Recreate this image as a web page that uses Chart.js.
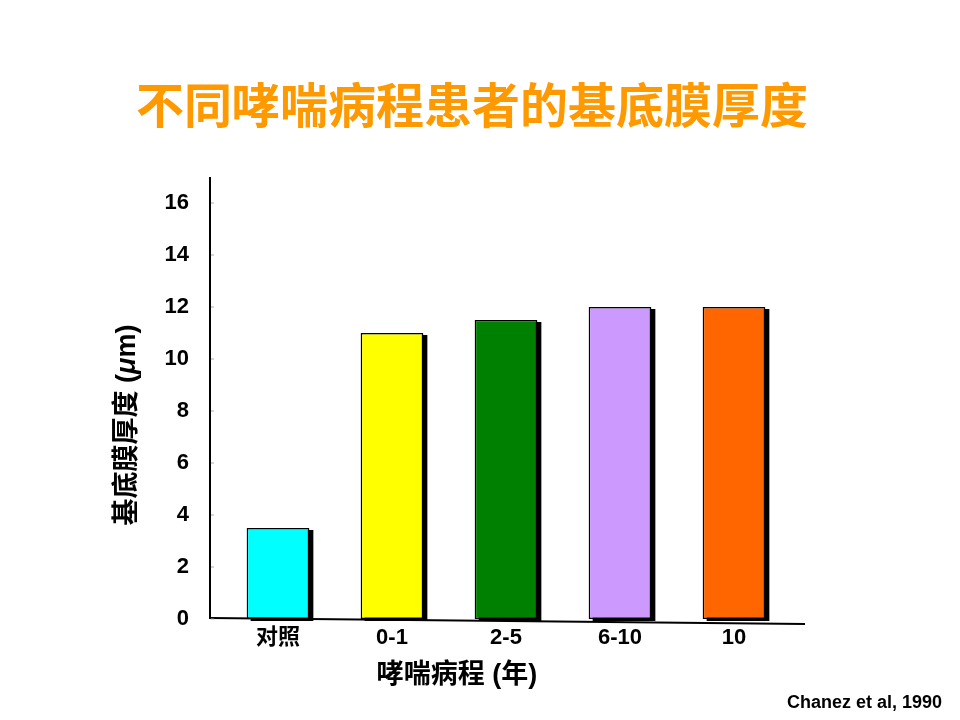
<!DOCTYPE html>
<html>
<head>
<meta charset="utf-8">
<script src="https://cdn.jsdelivr.net/npm/chart.js@4.4.0/dist/chart.umd.min.js"></script>
<style>
    html, body { margin: 0; padding: 0; background: #fff; }
    #wrap { width: 960px; height: 720px; }
</style>
</head>
<body>
<div id="wrap"><canvas id="myChart" width="960" height="720"></canvas></div>
<script>
// Data
const categories = ['对照', '0-1', '2-5', '6-10', '10'];
const thickness = [3.5, 11, 11.5, 12, 12];
const barColors = ['#00FFFF', '#FFFF00', '#008000', '#CC99FF', '#FF6600'];
const yTicks = [0, 2, 4, 6, 8, 10, 12, 14, 16];

const FONT = '"Liberation Sans", Arial, "Noto Sans CJK SC", sans-serif';
const CJK = '"Noto Sans CJK SC", sans-serif';

// draw a row of text pieces centred on (0,0) of the current transform
function drawPieces(ctx, parts) {
    let total = 0;
    parts.forEach(p => { ctx.font = p[1]; total += ctx.measureText(p[0]).width; });
    let x = -total / 2;
    parts.forEach(p => {
        ctx.font = p[1];
        ctx.fillText(p[0], x, 0);
        x += ctx.measureText(p[0]).width;
    });
}

// Shadow behind each bar + hand drawn axis lines, titles, source note
const decor = {
    id: 'decor',
    beforeDatasetsDraw(chart) {
        const ctx = chart.ctx;
        const meta = chart.getDatasetMeta(0);
        ctx.save();
        ctx.fillStyle = '#000';
        meta.data.forEach(bar => {
            const w = bar.width;
            ctx.fillRect(bar.x - w / 2 + 4, bar.y + 2, w, bar.base - bar.y);
        });
        ctx.restore();
    },
    afterDraw(chart) {
        const ctx = chart.ctx;
        const area = chart.chartArea;
        const y = chart.scales.y;
        const axisX = area.left - 11;
        ctx.save();
        ctx.strokeStyle = '#000';
        ctx.lineWidth = 2;
        ctx.beginPath();
        ctx.moveTo(axisX, area.top);
        ctx.lineTo(axisX, area.bottom);
        ctx.stroke();
        ctx.beginPath();
        ctx.moveTo(axisX, area.bottom - 1);
        ctx.lineTo(area.right + 14, area.bottom + 5);
        ctx.stroke();

        // small ticks on the y axis
        ctx.strokeStyle = '#aaa';
        ctx.lineWidth = 1;
        yTicks.forEach(v => {
            const py = y.getPixelForValue(v);
            ctx.beginPath();
            ctx.moveTo(axisX + 1, py);
            ctx.lineTo(axisX + 4, py);
            ctx.stroke();
        });
        ctx.restore();

        // main title
        ctx.save();
        ctx.fillStyle = '#FF9900';
        ctx.font = 'bold 48px ' + CJK;
        ctx.textAlign = 'center';
        ctx.textBaseline = 'middle';
        ctx.fillText('不同哮喘病程患者的基底膜厚度', 472, 105);
        ctx.restore();

        // y axis title with italic mu
        ctx.save();
        ctx.fillStyle = '#000';
        ctx.translate(128, 425);
        ctx.rotate(-Math.PI / 2);
        ctx.textBaseline = 'middle';
        drawPieces(ctx, [
            ['基底膜厚度 (', 'bold 27px ' + FONT],
            ['μ', 'italic bold 27px ' + FONT],
            ['m)', 'bold 27px ' + FONT]
        ]);
        ctx.restore();

        // x axis title
        ctx.save();
        ctx.fillStyle = '#000';
        ctx.translate(457, 676);
        ctx.textBaseline = 'middle';
        drawPieces(ctx, [['哮喘病程 (年)', 'bold 27px ' + FONT]]);
        ctx.restore();

        ctx.save();
        ctx.fillStyle = '#000';
        ctx.font = 'bold 18px ' + FONT;
        ctx.textAlign = 'right';
        ctx.textBaseline = 'middle';
        ctx.fillText('Chanez et al, 1990', 942, 703);
        ctx.restore();
    }
};

const data = {
    labels: categories,
    datasets: [{
        data: thickness,
        backgroundColor: barColors,
        borderColor: '#000',
        borderWidth: 1.5,
        borderSkipped: false,
        barPercentage: 0.55,
        categoryPercentage: 1.0
    }]
};

const config = {
    type: 'bar',
    data: data,
    options: {
        responsive: false,
        animation: false,
        layout: {
            padding: { left: 0, right: 169, top: 177, bottom: 0 }
        },
        plugins: {
            legend: { display: false },
            tooltip: { enabled: false },
            title: { display: false }
        },
        scales: {
            x: {
                grid: { display: false, drawTicks: false },
                border: { display: false },
                ticks: {
                    color: '#000',
                    padding: 6,
                    font: { family: FONT, size: 22, weight: 'bold' }
                },
                afterFit(scale) { scale.height = 101; }
            },
            y: {
                min: 0,
                max: 17,
                grid: { display: false, drawTicks: false },
                border: { display: false },
                afterBuildTicks(scale) {
                    scale.ticks = yTicks.map(v => ({ value: v }));
                },
                ticks: {
                    color: '#000',
                    padding: 32,
                    font: { family: FONT, size: 22, weight: 'bold' }
                },
                afterFit(scale) { scale.width = 221; }
            }
        }
    },
    plugins: [decor]
};

const myChart = new Chart(document.getElementById('myChart'), config);
</script>
</body>
</html>
